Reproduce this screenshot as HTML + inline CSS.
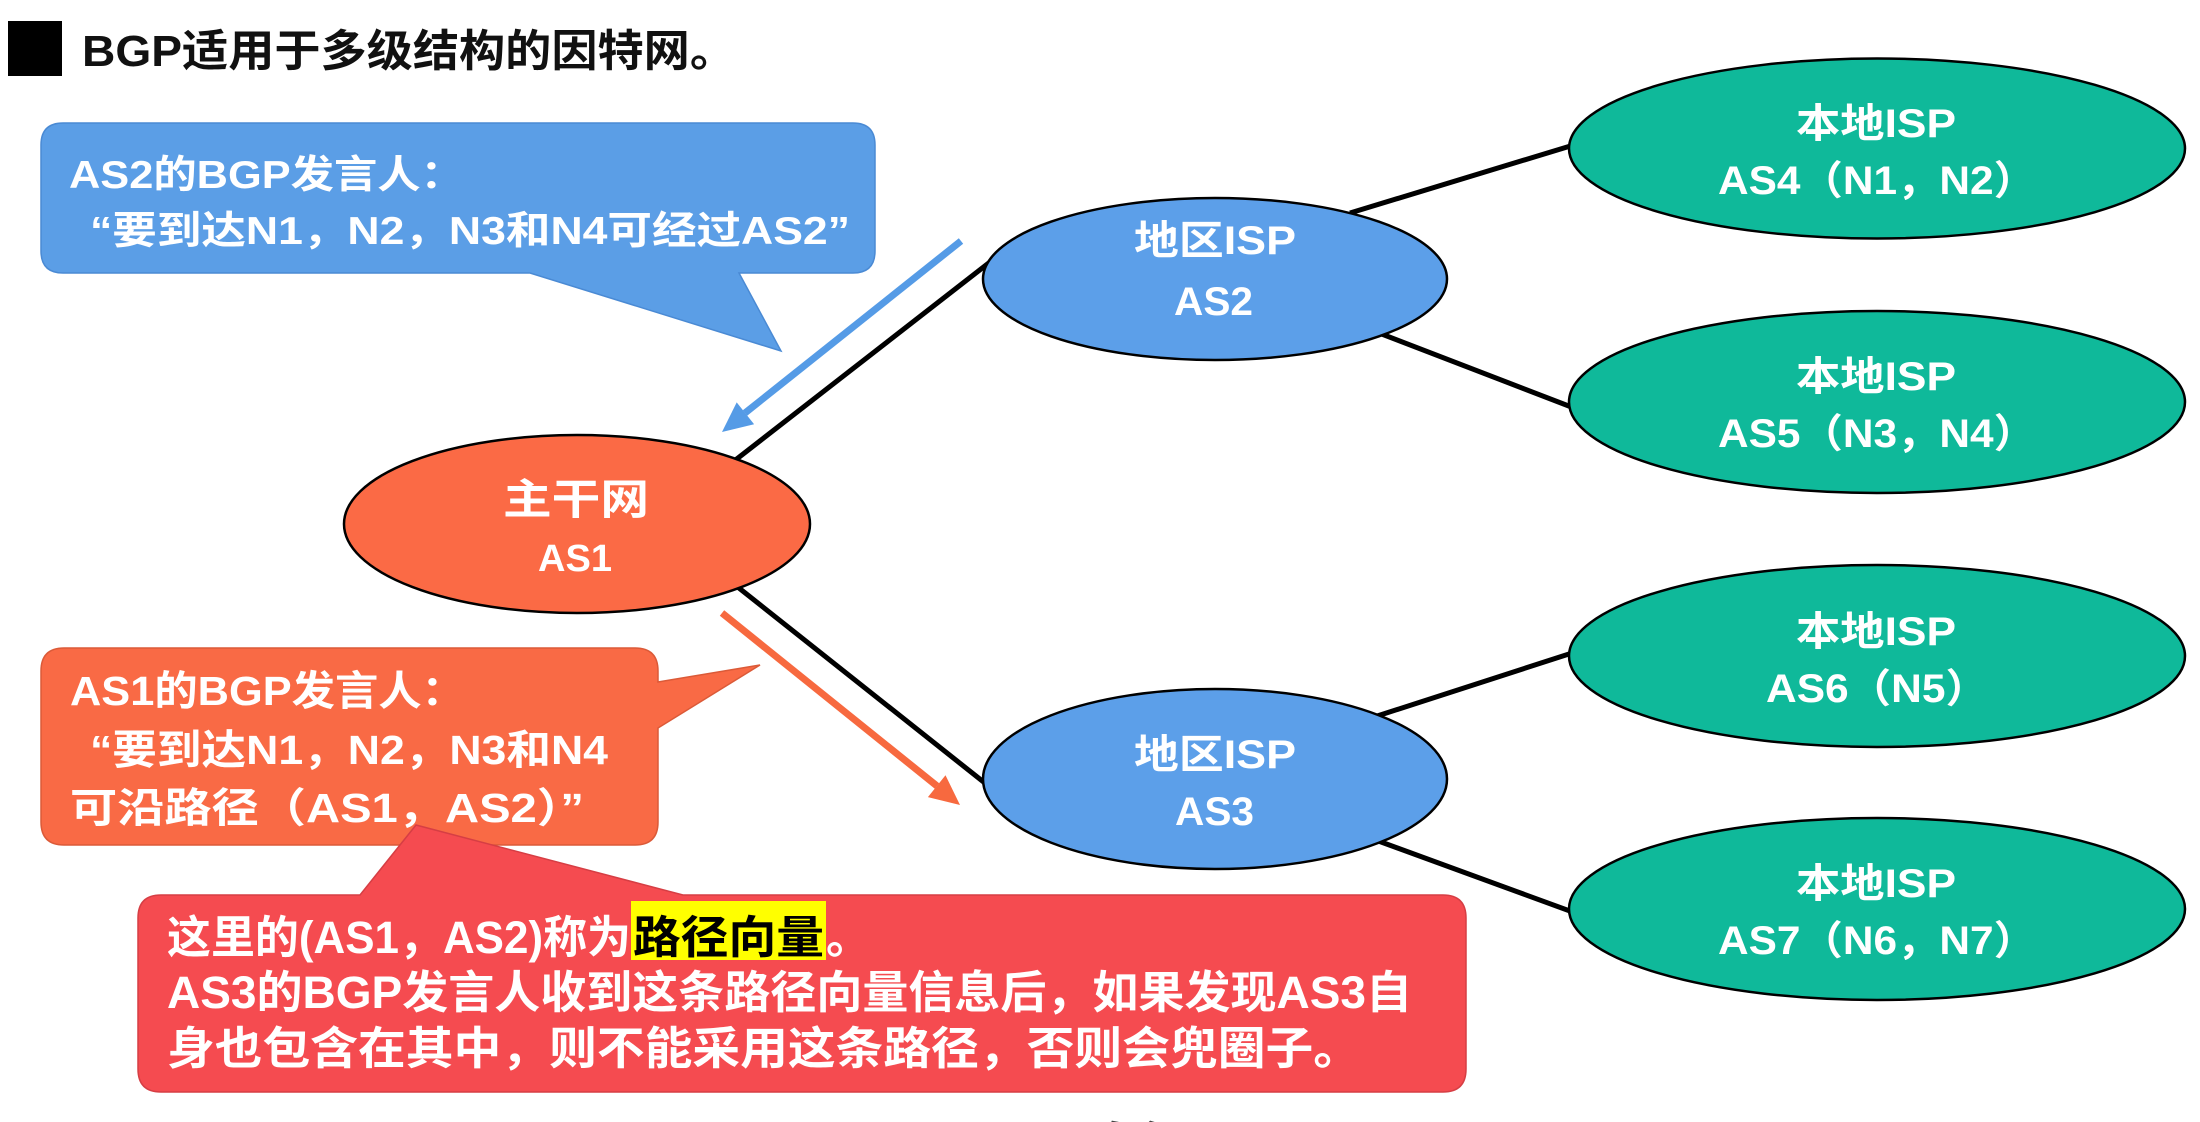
<!DOCTYPE html>
<html>
<head>
<meta charset="utf-8">
<style>
  html,body{margin:0;padding:0;background:#ffffff;}
  svg{display:block;}
  text{font-family:"Liberation Sans","Noto Sans CJK SC",sans-serif;font-weight:bold;}
</style>
</head>
<body>
<svg xmlns="http://www.w3.org/2000/svg" width="2200" height="1122" viewBox="0 0 2200 1122">
  <rect x="0" y="0" width="2200" height="1122" fill="#ffffff"/>

  <!-- Title -->
  <rect x="8" y="21" width="54" height="55" fill="#000000"/>
  <text x="82" y="66" font-size="44" fill="#111111" textLength="654" lengthAdjust="spacingAndGlyphs">BGP适用于多级结构的因特网。</text>

  <!-- Connector lines (black), extended into ellipses so they always touch -->
  <g stroke="#000000" stroke-width="5" stroke-linecap="butt">
    <line x1="720" y1="472" x2="990" y2="262"/>
    <line x1="720" y1="573" x2="1000" y2="795"/>
    <line x1="1350" y1="213" x2="1600" y2="137"/>
    <line x1="1340" y1="318" x2="1600" y2="418"/>
    <line x1="1340" y1="728" x2="1600" y2="644"/>
    <line x1="1340" y1="827" x2="1600" y2="922"/>
  </g>

  <!-- Ellipses -->
  <ellipse cx="577" cy="524" rx="233" ry="89" fill="#FB6A45" stroke="#000" stroke-width="2.5"/>
  <ellipse cx="1215" cy="279" rx="232" ry="81" fill="#5C9FE9" stroke="#000" stroke-width="2.5"/>
  <ellipse cx="1215" cy="779" rx="232" ry="90" fill="#5C9FE9" stroke="#000" stroke-width="2.5"/>
  <ellipse cx="1877" cy="148.5" rx="308" ry="90" fill="#0FB99A" stroke="#000" stroke-width="2.5"/>
  <ellipse cx="1877" cy="402" rx="308" ry="91" fill="#0FB99A" stroke="#000" stroke-width="2.5"/>
  <ellipse cx="1877" cy="656" rx="308" ry="91" fill="#0FB99A" stroke="#000" stroke-width="2.5"/>
  <ellipse cx="1877" cy="909" rx="308" ry="91" fill="#0FB99A" stroke="#000" stroke-width="2.5"/>

  <!-- Ellipse labels -->
  <g fill="#ffffff">
    <text x="503" y="514" font-size="42" textLength="146" lengthAdjust="spacingAndGlyphs">主干网</text>
    <text x="538" y="571" font-size="38" textLength="74" lengthAdjust="spacingAndGlyphs">AS1</text>

    <text x="1134" y="254" font-size="40" textLength="162" lengthAdjust="spacingAndGlyphs">地区ISP</text>
    <text x="1174" y="315" font-size="40" textLength="79" lengthAdjust="spacingAndGlyphs">AS2</text>

    <text x="1134" y="768" font-size="40" textLength="162" lengthAdjust="spacingAndGlyphs">地区ISP</text>
    <text x="1175" y="825" font-size="40" textLength="79" lengthAdjust="spacingAndGlyphs">AS3</text>

    <text x="1796" y="137" font-size="40" textLength="160" lengthAdjust="spacingAndGlyphs">本地ISP</text>
    <text x="1718" y="194" font-size="40" textLength="318" lengthAdjust="spacingAndGlyphs">AS4（N1，N2）</text>

    <text x="1796" y="390" font-size="40" textLength="160" lengthAdjust="spacingAndGlyphs">本地ISP</text>
    <text x="1718" y="447" font-size="40" textLength="318" lengthAdjust="spacingAndGlyphs">AS5（N3，N4）</text>

    <text x="1796" y="645" font-size="40" textLength="160" lengthAdjust="spacingAndGlyphs">本地ISP</text>
    <text x="1766" y="702" font-size="40" textLength="222" lengthAdjust="spacingAndGlyphs">AS6（N5）</text>

    <text x="1796" y="897" font-size="40" textLength="160" lengthAdjust="spacingAndGlyphs">本地ISP</text>
    <text x="1718" y="954" font-size="40" textLength="318" lengthAdjust="spacingAndGlyphs">AS7（N6，N7）</text>
  </g>

  <!-- Blue arrow (AS2 -> AS1) -->
  <line x1="961" y1="241" x2="745" y2="413" stroke="#559BE6" stroke-width="7"/>
  <polygon points="722,432 736.7,402.4 754.1,424.2" fill="#559BE6"/>

  <!-- Orange arrow (AS1 -> AS3) -->
  <line x1="722" y1="613" x2="937" y2="786" stroke="#F7693F" stroke-width="7"/>
  <polygon points="960,805 927.9,797.1 945.5,775.3" fill="#F7693F"/>

  <!-- Blue speech bubble -->
  <path d="M63,123 H853 Q875,123 875,145 V251 Q875,273 853,273 H739 L781,351 L530,273 H63 Q41,273 41,251 V145 Q41,123 63,123 Z"
        fill="#5B9EE6" stroke="#4A8AD4" stroke-width="1.5"/>
  <g fill="#ffffff">
    <text x="69" y="188" font-size="39" textLength="395" lengthAdjust="spacingAndGlyphs">AS2的BGP发言人：</text>
    <text x="90" y="244" font-size="39" textLength="760" lengthAdjust="spacingAndGlyphs">“要到达N1，N2，N3和N4可经过AS2”</text>
  </g>

  <!-- Orange speech bubble -->
  <path d="M64,648 H635 Q658,648 658,671 V682 L760,665 L658,728 V822 Q658,845 635,845 H64 Q41,845 41,822 V671 Q41,648 64,648 Z"
        fill="#F96A45" stroke="#DB5A38" stroke-width="1.5"/>
  <g fill="#ffffff">
    <text x="70" y="705" font-size="41" textLength="395" lengthAdjust="spacingAndGlyphs">AS1的BGP发言人：</text>
    <text x="90" y="764" font-size="41" textLength="518" lengthAdjust="spacingAndGlyphs">“要到达N1，N2，N3和N4</text>
    <text x="70" y="822" font-size="41" textLength="514" lengthAdjust="spacingAndGlyphs">可沿路径（AS1，AS2）”</text>
  </g>

  <!-- Red speech bubble -->
  <path d="M161,895 H360 L416,825 L683,895 H1443 Q1466,895 1466,918 V1069 Q1466,1092 1443,1092 H161 Q138,1092 138,1069 V918 Q138,895 161,895 Z"
        fill="#F54B50" stroke="#D63E44" stroke-width="1.5"/>
  <rect x="631" y="901" width="195" height="59" fill="#FFFF00"/>
  <g fill="#ffffff">
    <text x="167" y="953" font-size="45" textLength="464" lengthAdjust="spacingAndGlyphs">这里的(AS1，AS2)称为</text>
    <text x="633" y="953" font-size="45" fill="#000000" textLength="191" lengthAdjust="spacingAndGlyphs">路径向量</text>
    <text x="826" y="953" font-size="45" textLength="45" lengthAdjust="spacingAndGlyphs">。</text>
    <text x="167" y="1008" font-size="45" textLength="1245" lengthAdjust="spacingAndGlyphs">AS3的BGP发言人收到这条路径向量信息后，如果发现AS3自</text>
    <text x="167" y="1064" font-size="45" textLength="1194" lengthAdjust="spacingAndGlyphs">身也包含在其中，则不能采用这条路径，否则会兜圈子。</text>
  </g>

  <!-- Partially visible text at bottom edge -->
  <text x="995" y="1158" font-size="44" fill="#444444" textLength="200" lengthAdjust="spacingAndGlyphs">AS路径</text>
</svg>
</body>
</html>
